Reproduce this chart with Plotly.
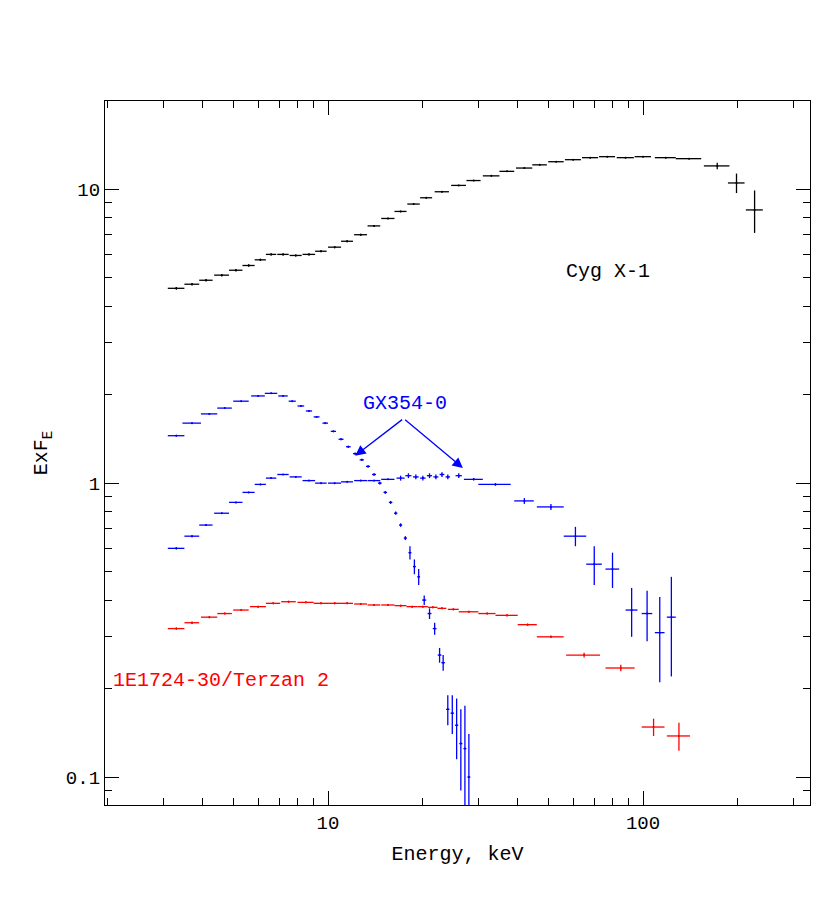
import math
import plotly.graph_objects as go

# Cyg X-1 (black)
cyg_e = [3.3, 3.7, 4.1, 4.6, 5.1, 5.6, 6.1, 6.6, 7.2, 7.9, 8.7, 9.5, 10.5, 11.5, 12.7, 14.0, 15.5, 17.0,
         18.7, 20.5, 23, 26, 29, 33, 37, 42, 47, 53, 60, 68, 77, 88, 100, 118, 140, 172, 198, 226]
cyg_f = [4.6, 4.75, 4.9, 5.1, 5.3, 5.5, 5.75, 6.0, 6.0, 5.95, 6.0, 6.15, 6.35, 6.65, 7.0, 7.5, 7.95, 8.4,
         8.9, 9.35, 9.8, 10.3, 10.7, 11.1, 11.5, 11.8, 12.1, 12.4, 12.6, 12.8, 12.9, 12.8, 12.9, 12.8, 12.7,
         12.0, 10.5, 8.5]
cyg_ferr = [0.05] * 35 + [0.3, 0.8, 1.4]
cyg_dx = [0.2, 0.2, 0.2, 0.25, 0.25, 0.25, 0.25, 0.25, 0.3, 0.35, 0.4, 0.4, 0.5, 0.5, 0.6, 0.65, 0.75, 0.75,
          0.85, 0.9, 1.2, 1.4, 1.5, 2, 2, 2.5, 2.5, 3, 3.5, 4, 4.5, 5.5, 6, 9, 13, 16, 12, 14]

# GX354-0, soft state (blue dots)
gxs_e = [3.3, 3.7, 4.2, 4.7, 5.3, 6.0, 6.6, 7.2, 7.7, 8.2, 8.7, 9.2, 9.8, 10.4, 11.0, 11.6, 12.2, 12.8,
         13.4, 14.0, 14.6, 15.2, 15.8, 16.4, 17.0, 17.6, 18.2, 18.8, 19.4, 20.2, 21.0, 21.8, 22.6, 23.2,
         24.0, 24.8, 25.6, 26.4, 27.2, 28.0]
gxs_f = [1.45, 1.6, 1.72, 1.8, 1.9, 1.98, 2.02, 1.98, 1.9, 1.83, 1.76, 1.68, 1.6, 1.5, 1.41, 1.33, 1.26,
         1.2, 1.14, 1.07, 1.0, 0.93, 0.86, 0.79, 0.72, 0.65, 0.58, 0.52, 0.48, 0.40, 0.36, 0.32, 0.26,
         0.245, 0.17, 0.165, 0.15, 0.13, 0.125, 0.1]
gxs_ferr = [0.01] * 26 + [0.03, 0.03, 0.03, 0.015, 0.015, 0.015, 0.015, 0.015, 0.02, 0.025, 0.035, 0.04, 0.05, 0.04]
gxs_dx = [0.2, 0.25, 0.25, 0.25, 0.3, 0.3, 0.3, 0.25, 0.2, 0.2, 0.2, 0.2, 0.2, 0.2, 0.2, 0.2, 0.2, 0.2,
          0.2, 0.2, 0.2, 0.2, 0.2, 0.2, 0.2, 0.2, 0.2, 0.2, 0.2, 0.3, 0.3, 0.3, 0.3, 0.3, 0.3, 0.3, 0.3, 0.3, 0.3, 0.3]

# GX354-0, hard state (blue)
gxh_e = [3.3, 3.7, 4.1, 4.6, 5.1, 5.6, 6.1, 6.6, 7.2, 7.9, 8.7, 9.5, 10.5, 11.5, 12.7, 14.0, 15.5,
         17.0, 18.0, 19.0, 20.0, 21.0, 22.0, 23.0, 24.0, 26.0, 29, 34, 42, 51, 61, 70, 80, 92, 103, 113, 123]
gxh_f = [0.6, 0.66, 0.72, 0.79, 0.86, 0.93, 0.99, 1.04, 1.07, 1.05, 1.02, 1.0, 1.0, 1.01, 1.02, 1.02,
         1.03, 1.04, 1.06, 1.05, 1.04, 1.06, 1.05, 1.07, 1.05, 1.06, 1.03, 0.99, 0.87, 0.83, 0.66, 0.53,
         0.51, 0.37, 0.36, 0.31, 0.35]
gxh_ferr = [0.005] * 17 + [0.02] * 8 + [0.02, 0.01, 0.01, 0.02, 0.02, 0.05, 0.08, 0.07, 0.07, 0.07, 0.1, 0.13]
gxh_dx = [0.2, 0.2, 0.2, 0.25, 0.25, 0.25, 0.25, 0.25, 0.3, 0.35, 0.4, 0.4, 0.5, 0.5, 0.6, 0.65, 0.75,
          0.5, 0.4, 0.4, 0.4, 0.4, 0.4, 0.4, 0.4, 0.6, 2, 4, 3, 5, 5, 4, 4, 4, 4, 4, 4]

# 1E1724-30 / Terzan 2 (red)
ter_e = [3.3, 3.7, 4.2, 4.7, 5.3, 6.0, 6.7, 7.5, 8.5, 9.5, 10.5, 11.5, 12.7, 14, 15.5, 17, 18.5, 20,
         21.5, 23, 25, 28, 32, 37, 43, 51, 65, 85, 108, 130]
ter_f = [0.32, 0.335, 0.35, 0.36, 0.37, 0.38, 0.39, 0.395, 0.393, 0.39, 0.39, 0.39, 0.388, 0.385,
         0.385, 0.383, 0.38, 0.38, 0.378, 0.375, 0.372, 0.365, 0.36, 0.355, 0.33, 0.3, 0.26, 0.235,
         0.148, 0.138]
ter_ferr = [0.003] * 26 + [0.005, 0.006, 0.01, 0.015]
ter_dx = [0.2, 0.2, 0.25, 0.25, 0.3, 0.35, 0.35, 0.4, 0.5, 0.5, 0.5, 0.5, 0.6, 0.65, 0.75, 0.75, 0.75,
          0.75, 0.75, 0.75, 1.0, 2, 2, 3, 3, 5, 8, 9, 9, 11]

font = "Liberation Mono"
fig = go.Figure()


def add(e, f, ferr, dx, color):
    fig.add_trace(go.Scatter(
        x=e, y=f, mode="markers", marker=dict(size=2, color=color),
        error_x=dict(type="data", array=dx, color=color, thickness=1.3, width=0),
        error_y=dict(type="data", array=ferr, color=color, thickness=1.3, width=0),
        showlegend=False))


add(cyg_e, cyg_f, cyg_ferr, cyg_dx, "black")
add(gxs_e, gxs_f, gxs_ferr, gxs_dx, "blue")
add(gxh_e, gxh_f, gxh_ferr, gxh_dx, "blue")
add(ter_e, ter_f, ter_ferr, ter_dx, "red")

axis = dict(type="log", showgrid=False, zeroline=False, mirror="allticks", showline=True,
            linecolor="black", linewidth=1.3, ticks="inside", ticklen=14, tickcolor="black",
            automargin=False,
            minor=dict(ticks="inside", ticklen=7, tickcolor="black", dtick="D1", showgrid=False),
            tickfont=dict(family=font, size=19, color="black"))
fig.update_xaxes(**axis, range=[0.292, 2.53], dtick=1,
                 title=dict(text="Energy, keV", font=dict(family=font, size=20, color="black"), standoff=12))
fig.update_yaxes(**axis, range=[-1.095, 1.3], dtick=1,
                 title=dict(text="ExF<sub>E</sub>", font=dict(family=font, size=20, color="black"), standoff=12))

fig.add_annotation(x=1.889, y=0.721, xref="x", yref="y", text="Cyg X-1", showarrow=False,
                   font=dict(family=font, size=20, color="black"))
fig.add_annotation(x=1.243, y=0.272, text="GX354-0", showarrow=False,
                   font=dict(family=font, size=20, color="blue"))
for hx, hy in [(12.2, 1.24), (26.8, 1.125)]:
    fig.add_annotation(x=math.log10(hx), y=math.log10(hy),
                       ax=1.24, ay=0.22, axref="x", ayref="y", text="", showarrow=True,
                       arrowhead=2, arrowsize=1.6, arrowwidth=1.3, arrowcolor="blue")
fig.add_annotation(x=0.661, y=-0.672, text="1E1724-30/Terzan 2", showarrow=False,
                   font=dict(family=font, size=20, color="red"))

fig.update_layout(width=830, height=911, plot_bgcolor="white", paper_bgcolor="white",
                  margin=dict(l=97, r=28, t=93, b=114))
fig.write_html("out.html")
